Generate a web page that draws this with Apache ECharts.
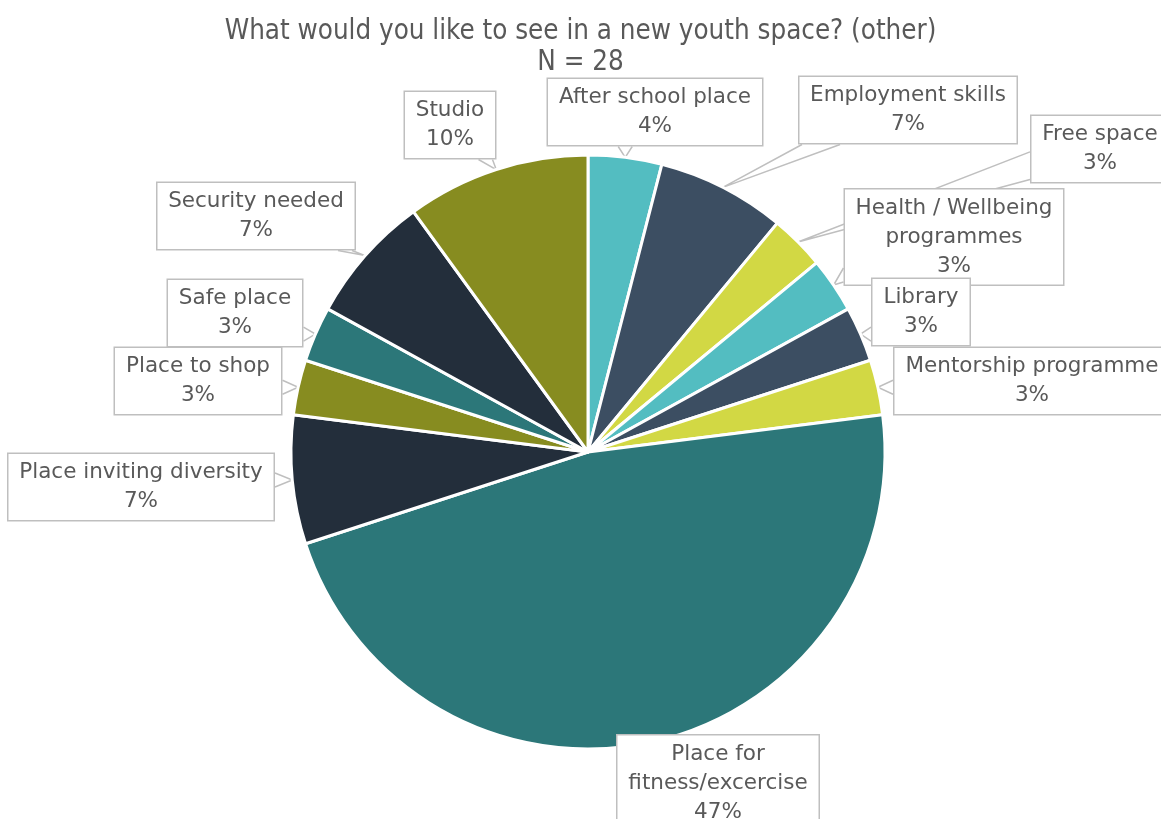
<!DOCTYPE html>
<html>
<head>
<meta charset="utf-8">
<script src="https://cdn.jsdelivr.net/npm/echarts@6/dist/echarts.min.js"></script>
<style>
  html, body { margin: 0; padding: 0; background: #ffffff; }
  #chart { width: 1161px; height: 819px; }
</style>
</head>
<body>
<div id="chart"></div>
<script>
// Survey answers, in clockwise order from 12 o'clock
const categories = [
  'After school place',
  'Employment skills',
  'Free space',
  'Health / Wellbeing\nprogrammes',
  'Library',
  'Mentorship programme',
  'Place for\nfitness/excercise',
  'Place inviting diversity',
  'Place to shop',
  'Safe place',
  'Security needed',
  'Studio'
];
// Share of responses, percent
const shares = [4, 7, 3, 3, 3, 3, 47, 7, 3, 3, 7, 10];

const palette = ['#53BDC1', '#3C4E62', '#D2D844', '#53BDC1', '#3C4E62', '#D2D844',
                 '#2C7779', '#232E3B', '#878C20', '#2C7779', '#232E3B', '#878C20'];

// Callout box centres, one per slice
const calloutCentres = [
  [655, 112], [908, 110], [1100, 149], [954, 237], [921, 312], [1032, 381],
  [718, 783], [141, 487], [198, 381], [235, 313], [256, 216], [450, 125]
];

const LABEL_FONT = "'DejaVu Sans', sans-serif";
const LABEL_SIZE = 21.5;

// Fixed text width per callout so the pie's own label fitting leaves the boxes alone
const measureCtx = document.createElement('canvas').getContext('2d');
measureCtx.font = LABEL_SIZE + 'px ' + LABEL_FONT;
function textWidth(str) {
  return Math.ceil(Math.max.apply(null, str.split('\n').map(l => measureCtx.measureText(l).width))) + 1;
}

const clamp = (v, lo, hi) => Math.max(lo, Math.min(hi, v));

// Callout pointer: a narrow wedge from the box edge to the slice rim
function calloutLayout(p) {
  const [cx, cy] = calloutCentres[p.dataIndex];
  const out = { x: cx, y: cy, align: 'center', verticalAlign: 'middle' };
  const pts = p.labelLinePoints;
  if (!pts || !pts.length) return out;
  const tip = pts[0];
  const w = p.labelRect.width, h = p.labelRect.height;
  const l = cx - w / 2, r = cx + w / 2, t = cy - h / 2, b = cy + h / 2;
  const dx = Math.max(l - tip[0], tip[0] - r, 0);
  const dy = Math.max(t - tip[1], tip[1] - b, 0);
  const hw = clamp(Math.hypot(dx, dy) * 0.22, 7, 24);
  let a, c;
  if (dy > 0 && dy >= dx * 0.4) {
    const ey = tip[1] > b ? b : t;
    const mx = clamp(tip[0] + (tip[0] < l ? hw : tip[0] > r ? -hw : 0), l + hw + 4, r - hw - 4);
    a = [mx - hw, ey]; c = [mx + hw, ey];
  } else {
    const ex = tip[0] < l ? l : r;
    const h2 = Math.min(hw, h * 0.2);
    const my = clamp(tip[1], t + h2 + 4, b - h2 - 4);
    a = [ex, my - h2]; c = [ex, my + h2];
  }
  out.labelLinePoints = [a, tip, c];
  return out;
}

const chart = echarts.init(document.getElementById('chart'));

chart.setOption({
  animation: false,
  title: {
    text: 'What would you like to see in a new youth space? (other)\nN = 28',
    left: 'center',
    top: 11,
    textStyle: {
      fontFamily: "'DejaVu Sans Condensed', 'Liberation Sans', sans-serif",
      fontWeight: 'normal',
      fontSize: 27.5,
      lineHeight: 31,
      color: '#595959'
    }
  },
  series: [{
    type: 'pie',
    center: [588, 452],
    radius: 297,
    startAngle: 90,
    clockwise: true,
    data: categories.map((name, i) => ({
      name: name,
      value: shares[i],
      itemStyle: { color: palette[i] },
      label: { width: textWidth(name) }
    })),
    itemStyle: { borderColor: '#ffffff', borderWidth: 3 },
    label: {
      show: true,
      formatter: p => p.name + '\n' + p.value + '%',
      fontFamily: LABEL_FONT,
      fontSize: LABEL_SIZE,
      lineHeight: 29,
      color: '#595959',
      align: 'center',
      backgroundColor: '#ffffff',
      borderColor: '#BFBFBF',
      borderWidth: 1.5,
      padding: [4, 10, 4, 10]
    },
    labelLine: {
      show: true,
      length: 4,
      length2: 0,
      lineStyle: { color: '#BFBFBF', width: 1.5 }
    },
    labelLayout: calloutLayout,
    emphasis: { disabled: true }
  }]
});
</script>
</body>
</html>
